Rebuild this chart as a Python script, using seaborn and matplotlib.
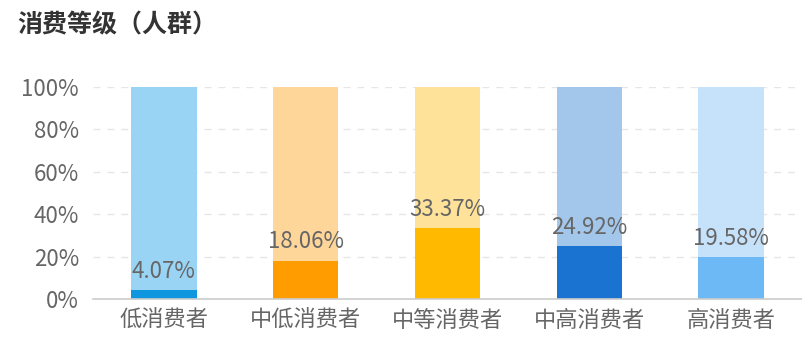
import matplotlib
matplotlib.use("Agg")
import matplotlib.pyplot as plt
import seaborn as sns
import pandas as pd

categories = ["低消费者", "中低消费者", "中等消费者", "中高消费者", "高消费者"]
values = [4.07, 18.06, 33.37, 24.92, 19.58]
totals = [100, 100, 100, 100, 100]
fg_colors = ["#0E96DE", "#FF9D00", "#FFBA00", "#1A73D0", "#6CB9F6"]
bg_colors = ["#9AD4F4", "#FFD699", "#FFE299", "#A3C6EB", "#C6E2FB"]
yticks = [0, 20, 40, 60, 80, 100]
title = "消费等级（人群）"

sns.set_theme(style="white")
plt.rcParams["font.family"] = ["Noto Sans CJK SC", "DejaVu Sans"]

df = pd.DataFrame({"cat": categories, "val": values, "tot": totals})

fig = plt.figure(figsize=(8.02, 3.43), dpi=100)
ax = fig.add_axes([93 / 802, 1 - 299 / 343, 1 - 93 / 802, (299 - 87) / 343])

sns.barplot(data=df, x="cat", y="tot", hue="cat", palette=bg_colors, width=0.46,
            legend=False, ax=ax, saturation=1, zorder=2, linewidth=0)
sns.barplot(data=df, x="cat", y="val", hue="cat", palette=fg_colors, width=0.46,
            legend=False, ax=ax, saturation=1, zorder=3, linewidth=0)

for i, v in enumerate(values):
    ax.annotate(f"{v:.2f}%", (i, v), xytext=(0, 9), textcoords="offset points",
                ha="center", va="baseline", fontsize=16, color="#666666", zorder=5)

ax.set_ylim(0, 100)
ax.set_xlim(-0.5, 4.5)
ax.set_yticks(yticks)
ax.set_yticklabels([f"{t}%" for t in yticks])
for t in yticks[1:]:
    ax.axhline(t, color="#E6E6E6", lw=1, ls=(0, (5, 5)), zorder=1)
ax.set_xlabel("")
ax.set_ylabel("")
for s in ["top", "right", "left"]:
    ax.spines[s].set_visible(False)
ax.spines["bottom"].set_color("#CCCCCC")
ax.spines["bottom"].set_linewidth(1.2)
ax.spines["bottom"].set_zorder(6)
ax.tick_params(axis="y", length=0, labelsize=16, labelcolor="#666666", pad=10)
ax.tick_params(axis="x", length=0, labelsize=16, labelcolor="#666666", pad=7)

fig.text(17 / 802, 1 - 25 / 343, title, fontsize=18, fontweight="bold",
         color="#333333", ha="left", va="center")

fig.savefig("out.png", dpi=100)
